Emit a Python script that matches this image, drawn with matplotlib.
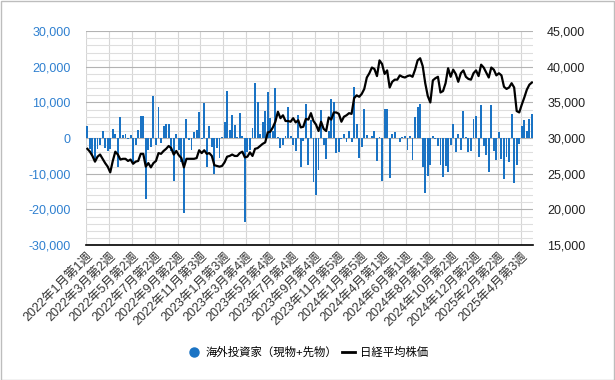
import numpy as np
import matplotlib
matplotlib.use("Agg")
import matplotlib.pyplot as plt
from matplotlib.lines import Line2D
from matplotlib.patches import Rectangle
from matplotlib.ticker import FuncFormatter, MultipleLocator

plt.rcParams['font.family'] = ['Liberation Sans', 'Noto Sans CJK JP', 'DejaVu Sans']

# 週次データ 2022年1月第1週 〜 2025年5月第2週
foreign = [
    3400, -3000, -4800, -5800, -3000, -2000, 2100, -2900, -3600, -3000,
    2600, 1200, -8100, 5900, 800, 1100, -200, 900, -7000, -2000,
    2300, 6200, 6200, -17100, -3200, -2600, 11900, -1800, 8700, -1500,
    3400, 4000, 4000, -3600, -11900, 1200, -3200, -6800, -21100, 5400,
    -600, -3400, 1700, 2300, 7300, -300, 9900, -8100, 3400, -2600,
    -10000, -2900, -5600, 300, 4600, 13100, 2300, 6500, 3600, 200,
    7100, 500, -23600, -4000, -3400, 2800, 15600, 10100, 1200, 4600,
    7700, 12900, 5600, 2100, 14000, 400, -2800, -2000, 600, 8700,
    600, -1800, -3700, 6600, -8100, -700, 9500, -7400, 5000, -12300,
    -16000, -9000, 7900, -1900, -5800, 2000, 10900, 10100, -4200, -3900,
    -300, 1200, -1200, 2000, -1200, 14300, 4000, -5600, -2600, 8100,
    800, 100, 600, 2000, -6500, 400, -11900, 8100, 8100, -11200,
    1200, 1800, -100, -1200, 300, 600, -3400, 500, -6200, 5900,
    8600, 9500, -8000, -15300, -10600, -7600, 600, -200, -2300, -7600,
    -10900, -7900, -9500, -2000, 4000, -4000, 1200, -3200, 7600, 300,
    -4000, -3500, 5400, 6200, -5400, 9300, -2100, -4800, -9500, 9300,
    -3500, -6000, 1800, -5800, -11600, -5400, -6800, 6800, -12500, -7600,
    -1700, 3400, 5100, 2100, 5400, 6700,
]

nikkei = [
    28500, 28100, 27500, 26700, 27400, 27700, 27100, 26500, 26000, 25200,
    26800, 28100, 27700, 27000, 27100, 27100, 26800, 27000, 26400, 26700,
    26800, 27800, 27800, 26000, 26500, 25900, 26500, 26800, 27900, 27800,
    28200, 28500, 28900, 28600, 27700, 28200, 27600, 27200, 25900, 27100,
    27100, 27100, 27100, 27200, 28300, 27900, 28300, 27800, 27900, 27500,
    26200, 26100, 26000, 26100, 26600, 27400, 27500, 27700, 27500, 27500,
    27900, 28100, 27300, 27400, 28000, 27500, 28500, 28600, 28900, 29200,
    29400, 30800, 30900, 31500, 32300, 33700, 32800, 33200, 32400, 32400,
    32300, 32800, 32200, 32500, 31500, 31600, 32700, 32600, 33500, 32400,
    31900, 31000, 32300, 31300, 31000, 32900, 32600, 33600, 33600, 33400,
    32300, 33000, 33200, 33500, 33400, 35600, 36000, 35800, 36200, 36900,
    38500, 39100, 39900, 39700, 38700, 40900, 40400, 39000, 39500, 37100,
    37900, 38200, 38200, 38800, 38600, 38500, 38700, 38800, 38600, 39600,
    40900, 41200, 40100, 37700, 35900, 35000, 38100, 38400, 38600, 36400,
    36600, 37700, 39800, 38600, 39600, 39000, 37900, 39100, 39500, 38600,
    38300, 38200, 39100, 39500, 38700, 40300, 39900, 39200, 38500, 39900,
    39600, 38800, 39100, 38800, 37200, 36900, 37100, 37700, 37100, 33800,
    33600, 34700, 35700, 36800, 37500, 37800,
]

tick_labels = [
    "2022年1月第1週", "2022年3月第2週", "2022年5月第2週", "2022年7月第2週",
    "2022年9月第2週", "2022年11月第3週", "2023年1月第3週", "2023年3月第4週",
    "2023年5月第4週", "2023年7月第4週", "2023年9月第4週", "2023年11月第5週",
    "2024年1月第5週", "2024年4月第1週", "2024年6月第1週", "2024年8月第1週",
    "2024年10月第2週", "2024年12月第2週", "2025年2月第2週", "2025年4月第3週",
]
TICK_STEP = 9

BAR_COLOR = "#1a73c4"
LEFT_COLOR = "#2f80d0"

n = len(foreign)
x = np.arange(n)

fig = plt.figure(figsize=(6.15, 3.8), dpi=100)
fig.subplots_adjust(left=0.14, right=0.867, bottom=0.355, top=0.918)
ax = fig.add_subplot(111)

ax.bar(x, foreign, width=0.75, color=BAR_COLOR, zorder=2)
ax.set_xlim(-0.5, n - 0.5)
ax.set_ylim(-30000, 30000)
ax.yaxis.set_major_locator(MultipleLocator(10000))
ax.yaxis.set_minor_locator(MultipleLocator(2000))
ax.yaxis.set_major_formatter(FuncFormatter(lambda v, p: f"{int(v):,}"))
ax.set_axisbelow(True)
ax.grid(which="major", axis="y", color="#b3b3b3", linewidth=0.8)
ax.grid(which="minor", axis="y", color="#dedede", linewidth=0.8)

# カテゴリ軸
ax.set_xticks(x[::TICK_STEP])
ax.set_xticklabels(tick_labels, rotation=45, ha="right", rotation_mode="anchor",
                   fontsize=9, color="#333333")
ax.set_xticks(np.arange(-0.5, n, TICK_STEP), minor=True)
ax.grid(which="minor", axis="x", color="#d6d6d6", linewidth=0.8)
ax.tick_params(axis="x", which="both", length=0, pad=4)
ax.tick_params(axis="y", which="both", length=0, labelsize=9,
               labelcolor=LEFT_COLOR, pad=11)
for s in ["top", "left", "right"]:
    ax.spines[s].set_visible(False)
ax.spines["bottom"].set_color("black")
ax.spines["bottom"].set_linewidth(1.2)

ax2 = ax.twinx()
ax2.plot(x, nikkei, color="black", linewidth=1.6, zorder=3)
ax2.set_ylim(15000, 45000)
ax2.yaxis.set_major_locator(MultipleLocator(5000))
ax2.yaxis.set_major_formatter(FuncFormatter(lambda v, p: f"{int(v):,}"))
ax2.tick_params(axis="y", length=0, labelsize=9, labelcolor="#222222", pad=10)
for s in ["top", "left", "right", "bottom"]:
    ax2.spines[s].set_visible(False)

handles = [
    Line2D([], [], marker="o", linestyle="none", markersize=6.5,
           markerfacecolor=BAR_COLOR, markeredgecolor=BAR_COLOR),
    Line2D([], [], color="black", linewidth=2),
]
fig.legend(handles, ["海外投資家（現物+先物）", "日経平均株価"],
           loc="center", bbox_to_anchor=(0.5, 0.072), ncol=2, frameon=False,
           fontsize=8.2, handlelength=1.2, columnspacing=0.4, handletextpad=0.4)

fig.patches.append(Rectangle((0.001, 0.001), 0.997, 0.997, transform=fig.transFigure,
                             fill=False, edgecolor="#bdbdbd", linewidth=1))

fig.savefig("out.png", dpi=100)
